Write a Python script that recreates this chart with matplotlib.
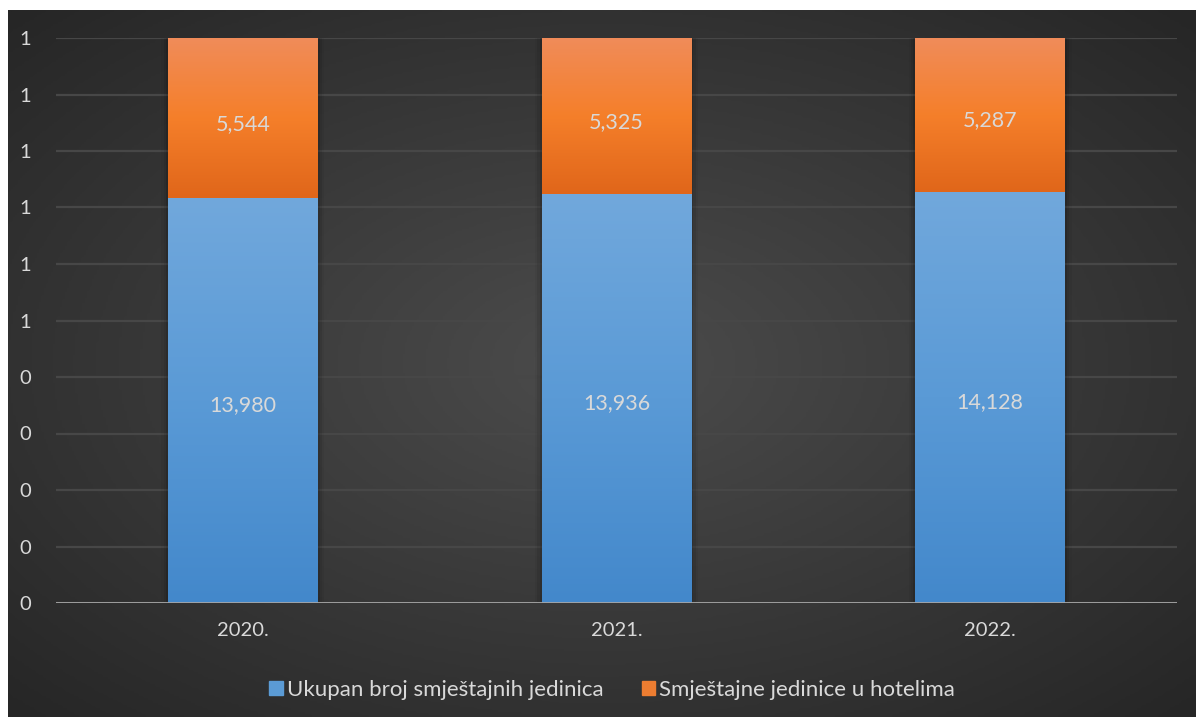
import numpy as np
import matplotlib
matplotlib.use("Agg")
import matplotlib.pyplot as plt
from matplotlib.colors import LinearSegmentedColormap

# --- Dados -------------------------------
years = ["2020.", "2021.", "2022."]
ukupno = [13980, 13936, 14128]
hoteli = [5544, 5325, 5287]
labels = ["Ukupan broj smještajnih jedinica", "Smještajne jedinice u hotelima"]

plt.rcParams["font.family"] = ["Lato", "DejaVu Sans"]
TXT = "#d9d9d9"

W, H = 1196, 717
fig = plt.figure(figsize=(W / 100, H / 100), dpi=100)
fig.patch.set_facecolor("white")

# pozadina s radijalnim gradijentom
bg = fig.add_axes([8 / W, 0, 1 - 8 / W, 1 - 10 / H])
bg.set_axis_off()
yy, xx = np.mgrid[0:1:300j, 0:1:500j]
r = np.sqrt(((xx - 0.5) / 0.75) ** 2 + ((yy - 0.5) / 0.75) ** 2)
r = np.clip(r / 0.94, 0, 1)
bg_cmap = LinearSegmentedColormap.from_list("bg", ["#4c4c4c", "#262626"])
bg.imshow(r, cmap=bg_cmap, aspect="auto", extent=[0, 1, 0, 1], vmin=0, vmax=1)

ax = fig.add_axes([56 / W, 1 - 603 / H, (1177 - 56) / W, (603 - 38) / H])
ax.set_facecolor("none")

tot = np.array(ukupno) + np.array(hoteli)
p_uk = np.array(ukupno) / tot
p_ho = np.array(hoteli) / tot
x = np.arange(len(years))
bw = 0.40

blue_cm = LinearSegmentedColormap.from_list("b", ["#4388cb", "#5a9ad6", "#71a8dc"])
orange_cm = LinearSegmentedColormap.from_list("o", ["#e0661a", "#f57f2a", "#f08c5a"])
grad = np.linspace(0, 1, 256).reshape(-1, 1)

for i in range(len(years)):
    # sjena
    for k, a in enumerate([0.10, 0.07, 0.04]):
        ax.bar(x[i], 1.0, bw + 0.012 * (k + 1), color="black", alpha=a, zorder=2, linewidth=0)
    ax.bar(x[i], p_uk[i], bw, color="#5b9bd5", zorder=3, linewidth=0)
    ax.bar(x[i], p_ho[i], bw, bottom=p_uk[i], color="#ed7d31", zorder=3, linewidth=0)
    ax.imshow(grad, cmap=blue_cm, aspect="auto", origin="lower",
              extent=[x[i] - bw / 2, x[i] + bw / 2, 0, p_uk[i]], zorder=4)
    ax.imshow(grad, cmap=orange_cm, aspect="auto", origin="lower",
              extent=[x[i] - bw / 2, x[i] + bw / 2, p_uk[i], 1.0], zorder=4)
    ax.annotate(f"{ukupno[i]:,}", (x[i], p_uk[i] / 2), xytext=(0, -3),
                textcoords="offset points", ha="center", va="center",
                color=TXT, fontsize=15.5, zorder=6)
    ax.annotate(f"{hoteli[i]:,}", (x[i], p_uk[i] + p_ho[i] / 2), xytext=(0, -4),
                textcoords="offset points", ha="center", va="center",
                color=TXT, fontsize=15.5, zorder=6)

ax.set_xlim(-0.5, 2.5)
ax.set_ylim(0, 1)
ax.set_yticks(np.linspace(0, 1, 11))
ax.set_yticklabels(["0" if v < 0.5 else "1" for v in np.linspace(0, 1, 11)])
ax.set_xticks(x)
ax.set_xticklabels(years)
ax.tick_params(colors=TXT, labelsize=14.5, length=0)
ax.tick_params(axis="y", pad=22)
ax.tick_params(axis="x", pad=14)
for lab in ax.get_yticklabels():
    lab.set_horizontalalignment("center")
ax.grid(axis="y", color="#474747", linewidth=1.6, zorder=1)
ax.set_axisbelow(True)
for s in ax.spines.values():
    s.set_visible(False)
ax.axhline(0, color="#a6a6a6", linewidth=2, zorder=5)

h1 = plt.Rectangle((0, 0), 1, 1, color="#5b9bd5")
h2 = plt.Rectangle((0, 0), 1, 1, color="#ed7d31")
leg = fig.legend([h1, h2], labels, loc="center", bbox_to_anchor=(0.512, 1 - 690 / H),
                 ncol=2, frameon=False, fontsize=16, labelcolor=TXT,
                 handlelength=0.6, handleheight=0.6, handletextpad=0.2, columnspacing=1.7)

fig.savefig("out.png", dpi=100, facecolor=fig.get_facecolor())
